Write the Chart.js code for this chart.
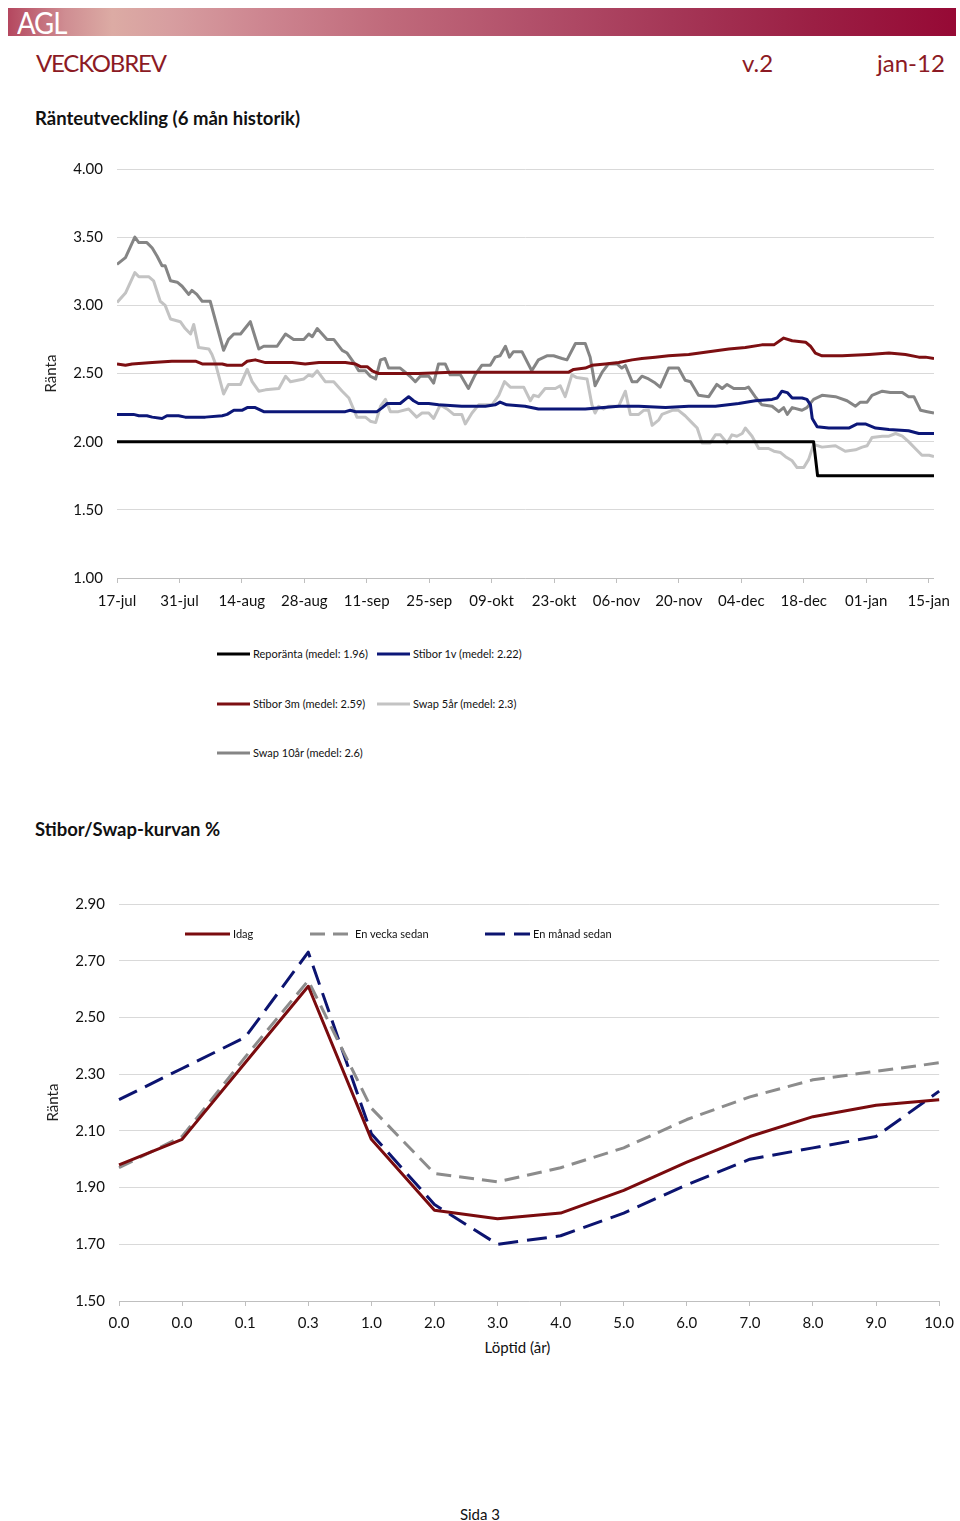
<!DOCTYPE html>
<html>
<head>
<meta charset="utf-8">
<script src="https://cdn.jsdelivr.net/npm/chart.js@4.4.1/dist/chart.umd.min.js"></script>
<style>
  html,body{margin:0;padding:0;}
  body{width:960px;height:1521px;position:relative;background:#fff;font-family:Lato,"Open Sans",sans-serif;overflow:hidden;}
  .abs{position:absolute;white-space:nowrap;}
  #banner{left:8px;top:8px;width:948px;height:28px;overflow:hidden;
    background:linear-gradient(to right,#b4475f 0%,#cf8d92 6%,#dcaba4 11%,#d79ea0 17%,#cd8590 27%,#c06a7b 40%,#b2506a 55%,#a53757 70%,#9b1f44 85%,#960935 100%);}
  #agl{left:9px;top:0px;color:#fff;font-size:30px;letter-spacing:-1.2px;line-height:28px;transform:scaleX(0.92);transform-origin:left center;}
  .hdr{color:#8c1a24;font-size:24px;top:48px;line-height:30px;}
  .sec{font-weight:bold;font-size:18.5px;color:#111;}
  .leg{font-size:11px;color:#111;line-height:14px;display:flex;align-items:center;}
  .leg svg{margin-right:3px;}
  #c1wrap{left:38px;top:146px;width:921px;height:474px;}
  #c2wrap{left:40px;top:881px;width:922px;height:450px;}
</style>
</head>
<body>
<div id="banner" class="abs"><div id="agl" class="abs">AGL</div></div>
<div class="abs hdr" style="left:36px;letter-spacing:-1.2px;">VECKOBREV</div>
<div class="abs hdr" style="left:742px;">v.2</div>
<div class="abs hdr" style="left:877px;">jan-12</div>
<div class="abs sec" style="left:35px;top:107px;">Ränteutveckling (6 mån historik)</div>
<div class="abs sec" style="left:35px;top:818px;">Stibor/Swap-kurvan %</div>

<div id="c1wrap" class="abs"><canvas id="c1" width="921" height="474"></canvas></div>
<div id="c2wrap" class="abs"><canvas id="c2" width="922" height="450"></canvas></div>
<div id="leg1"></div>
<div id="leg2"></div>
<div class="abs" style="left:0;width:1035px;top:1338px;text-align:center;font-size:15px;color:#111;">Löptid (år)</div>
<div class="abs" style="left:0;width:960px;top:1505px;text-align:center;font-size:15px;color:#111;">Sida 3</div>

<script>
// ---------- Chart 1: Ränteutveckling ----------
const tickDays   = [0,14,28,42,56,70,84,98,112,126,140,154,168,182]; // days after 17-jul
const tickLabels = ['17-jul','31-jul','14-aug','28-aug','11-sep','25-sep','09-okt','23-okt','06-nov','20-nov','04-dec','18-dec','01-jan','15-jan'];
const seriesNames = ['Reporänta (medel: 1.96)','Stibor 1v (medel: 2.22)','Stibor 3m (medel: 2.59)','Swap 5år (medel: 2.3)','Swap 10år (medel: 2.6)'];
const seriesColors = ['#000000','#0c1778','#7d0f12','#c3c3c3','#858585'];

const repoDays = [0,156.2,157.1,183.2];
const repoVals = [2.00,2.00,1.75,1.75];

const stibor1vDays = [0,3.7,4.9,6.7,7.9,10.1,11.2,13.8,15.3,18.3,
  19.8,23.6,24.7,26.2,28.0,29.2,31.0,32.9,34.8,36.3,
  51.2,52.3,53.5,58.3,59.5,60.6,63.5,65.4,66.5,67.6,
  69.9,72.1,77.3,82.6,84.8,85.9,87.4,91.5,94.5,100.5,
  105.0,112.5,117.0,123.0,128.2,134.2,139.4,143.1,146.9,148.0,
  149.1,150.3,151.4,153.6,154.7,155.5,155.9,157.0,159.6,164.1,
  166.0,167.8,170.1,173.1,177.5,179.8,183.2];
const stibor1vVals = [2.20,2.20,2.19,2.19,2.18,2.17,2.19,2.19,2.18,2.18,
  2.18,2.19,2.20,2.23,2.23,2.25,2.25,2.22,2.22,2.22,
  2.22,2.23,2.22,2.22,2.25,2.28,2.28,2.33,2.30,2.28,
  2.28,2.27,2.26,2.26,2.27,2.29,2.27,2.26,2.24,2.24,
  2.24,2.26,2.26,2.25,2.26,2.26,2.28,2.30,2.31,2.32,
  2.37,2.36,2.32,2.32,2.31,2.27,2.17,2.11,2.10,2.10,
  2.13,2.13,2.10,2.09,2.08,2.06,2.06];

const stibor3mDays = [0,1.9,3.4,7.9,12.3,17.6,19.1,23.6,24.7,28.0,
  29.2,31.0,33.3,39.3,42.2,45.3,51.2,53.5,54.6,56.1,
  57.2,58.7,61.7,67.6,75.1,82.6,90.0,93.0,101.3,102.4,
  105.0,106.5,109.5,112.5,115.5,117.7,120.7,123.7,128.2,132.7,
  137.2,140.9,144.6,147.3,149.5,151.4,154.4,155.5,156.6,158.1,
  162.6,168.6,173.1,176.8,179.8,181.3,183.2];
const stibor3mVals = [2.57,2.56,2.57,2.58,2.59,2.59,2.57,2.57,2.56,2.56,
  2.59,2.60,2.58,2.58,2.57,2.58,2.58,2.57,2.55,2.55,
  2.52,2.50,2.50,2.50,2.51,2.51,2.51,2.51,2.51,2.53,
  2.54,2.56,2.57,2.58,2.60,2.61,2.62,2.63,2.64,2.66,
  2.68,2.69,2.71,2.71,2.76,2.74,2.73,2.70,2.65,2.63,
  2.63,2.64,2.65,2.64,2.62,2.62,2.61];

const swap5Days = [0,1.9,4.0,4.9,7.1,8.2,9.7,10.8,12.0,14.2,
  15.3,16.5,17.2,18.3,20.6,21.3,22.1,23.9,25.0,27.7,
  29.2,30.3,31.8,33.3,36.3,37.8,38.9,41.9,43.0,43.8,
  44.9,46.7,48.6,50.5,52.0,53.8,55.7,56.8,58.0,59.1,
  60.2,61.3,63.1,65.4,67.2,68.4,69.9,71.0,72.5,74.0,
  75.5,77.3,78.1,79.6,81.1,84.1,85.6,86.9,88.2,91.2,
  92.7,93.4,94.5,96.0,98.3,99.4,100.5,102.0,103.1,105.4,
  106.5,107.2,108.0,109.1,110.2,112.5,114.0,115.1,117.0,118.1,
  119.2,120.0,121.5,122.2,124.5,125.9,127.4,128.9,130.1,131.2,
  133.0,134.2,135.3,136.8,137.9,139.0,140.2,140.9,142.4,143.9,
  146.1,147.3,148.8,149.9,151.4,152.5,154.0,155.1,156.2,158.1,
  161.1,163.3,165.6,167.1,168.2,169.3,171.6,173.1,174.6,176.1,
  177.5,179.0,180.5,182.1,183.2];
const swap5Vals = [3.02,3.09,3.24,3.21,3.21,3.18,3.03,3.00,2.90,2.88,
  2.83,2.79,2.86,2.69,2.68,2.64,2.57,2.35,2.42,2.42,
  2.53,2.44,2.37,2.38,2.39,2.48,2.44,2.46,2.49,2.48,
  2.52,2.44,2.44,2.37,2.32,2.18,2.18,2.15,2.14,2.26,
  2.31,2.22,2.22,2.24,2.18,2.21,2.21,2.17,2.27,2.24,
  2.20,2.20,2.13,2.21,2.27,2.27,2.34,2.44,2.40,2.40,
  2.30,2.34,2.33,2.39,2.39,2.41,2.33,2.49,2.47,2.46,
  2.27,2.21,2.26,2.24,2.26,2.26,2.37,2.20,2.20,2.23,
  2.23,2.12,2.16,2.20,2.23,2.23,2.19,2.14,2.10,1.99,
  1.99,2.05,2.05,1.99,2.05,2.04,2.06,2.10,2.04,1.95,
  1.95,1.93,1.92,1.89,1.86,1.81,1.81,1.87,1.98,1.96,
  1.97,1.93,1.94,1.96,1.97,2.03,2.04,2.04,2.06,2.04,
  2.00,1.95,1.90,1.90,1.89];

const swap10Days = [0,1.9,4.0,4.9,6.7,7.9,9.0,10.1,10.8,12.0,
  13.5,14.6,16.1,16.8,17.9,19.1,20.9,23.9,25.0,26.2,
  27.7,29.9,31.8,32.9,35.9,37.8,39.6,41.9,43.0,43.8,
  44.9,47.1,48.6,50.5,51.6,53.1,54.2,55.7,56.8,58.0,
  59.1,60.1,60.9,63.5,64.6,65.7,66.9,68.0,69.9,71.0,
  72.1,73.6,74.7,77.0,78.8,80.3,81.8,83.7,84.8,85.9,
  87.1,88.0,88.9,90.8,93.0,94.5,96.4,97.9,99.8,100.9,
  102.8,105.0,106.1,107.2,108.8,110.2,112.1,113.2,114.0,115.5,
  116.6,117.7,119.2,120.7,121.8,123.7,125.9,127.4,128.6,130.4,
  132.7,134.5,135.7,136.8,138.3,140.9,141.6,143.1,144.6,146.9,
  148.4,149.5,150.3,151.4,153.6,154.7,156.2,158.1,161.1,163.7,
  165.6,166.7,168.2,169.3,171.6,173.4,176.1,177.5,178.7,180.2,
  181.7,183.2];
const swap10Vals = [3.30,3.35,3.50,3.46,3.46,3.42,3.36,3.29,3.29,3.18,
  3.17,3.14,3.08,3.11,3.08,3.03,3.03,2.67,2.75,2.79,
  2.79,2.88,2.68,2.70,2.70,2.79,2.75,2.75,2.79,2.77,
  2.83,2.75,2.75,2.67,2.65,2.58,2.52,2.52,2.48,2.46,
  2.60,2.61,2.54,2.54,2.51,2.48,2.44,2.48,2.48,2.43,
  2.57,2.57,2.49,2.49,2.39,2.49,2.56,2.56,2.62,2.63,
  2.70,2.62,2.66,2.66,2.52,2.60,2.63,2.63,2.61,2.60,
  2.72,2.72,2.62,2.41,2.51,2.57,2.57,2.54,2.56,2.44,
  2.44,2.48,2.46,2.43,2.40,2.54,2.54,2.45,2.44,2.34,
  2.33,2.42,2.39,2.42,2.39,2.39,2.40,2.33,2.27,2.26,
  2.22,2.25,2.20,2.25,2.23,2.25,2.31,2.34,2.33,2.30,
  2.26,2.29,2.29,2.34,2.37,2.36,2.36,2.33,2.33,2.23,
  2.22,2.21];

// ---------- Chart 2: Stibor/Swap-kurvan ----------
const maturities = ['0.0','0.0','0.1','0.3','1.0','2.0','3.0','4.0','5.0','6.0','7.0','8.0','9.0','10.0'];
const curveNames = ['Idag','En vecka sedan','En månad sedan'];
const curveColors = ['#7a0b0e','#8c8c8c','#0c1470'];
const idagVals    = [1.98,2.07,2.34,2.61,2.07,1.82,1.79,1.81,1.89,1.99,2.08,2.15,2.19,2.21];
const veckaVals   = [1.97,2.08,2.36,2.63,2.18,1.95,1.92,1.97,2.04,2.14,2.22,2.28,2.31,2.34];
const manadVals   = [2.21,2.32,2.43,2.73,2.09,1.84,1.70,1.73,1.81,1.91,2.00,2.04,2.08,2.24];

const FONT = 'Lato';
function pts(d, v){ const n=Math.min(d.length,v.length); const r=[]; for(let i=0;i<n;i++) r.push({x:d[i],y:v[i]}); return r; }
function ds(label, data, color, dash){
  return {label, data, borderColor:color, backgroundColor:color, borderWidth:3, pointRadius:0, tension:0, borderDash:dash||[], fill:false, borderCapStyle:'butt', borderJoinStyle:'round'};
}

new Chart(document.getElementById('c1'), {
  type:'line',
  data:{datasets:[
    ds(seriesNames[0], pts(repoDays,repoVals), seriesColors[0]),
    ds(seriesNames[1], pts(stibor1vDays,stibor1vVals), seriesColors[1]),
    ds(seriesNames[2], pts(stibor3mDays,stibor3mVals), seriesColors[2]),
    ds(seriesNames[3], pts(swap5Days,swap5Vals), seriesColors[3]),
    ds(seriesNames[4], pts(swap10Days,swap10Vals), seriesColors[4])
  ]},
  options:{
    responsive:false, animation:false, maintainAspectRatio:false,
    layout:{padding:{top:18,right:25,left:0,bottom:0}},
    plugins:{legend:{display:false}, tooltip:{enabled:false}},
    scales:{
      x:{type:'linear', min:0, max:183.2,
        afterBuildTicks:s=>{ s.ticks = tickDays.map(v=>({value:v})); },
        ticks:{autoSkip:false, maxRotation:0, padding:9, color:'#111', font:{family:FONT,size:15},
          callback:(v)=>tickLabels[tickDays.indexOf(v)]},
        grid:{drawOnChartArea:false, drawTicks:true, tickLength:5, color:'#bfbfbf'},
        border:{color:'#bfbfbf'},
        afterFit:s=>{ s.height = 42; }
      },
      y:{min:1, max:4,
        ticks:{stepSize:0.5, padding:14, color:'#111', font:{family:FONT,size:15}, callback:v=>Number(v).toFixed(2)},
        grid:{color:'#d9d9d9', drawTicks:false},
        border:{display:false},
        title:{display:true, text:'Ränta', color:'#222', font:{family:FONT,size:15}},
        afterFit:s=>{ s.width = 79; }
      }
    }
  }
});

new Chart(document.getElementById('c2'), {
  type:'line',
  data:{labels:maturities, datasets:[
    ds(curveNames[0], idagVals, curveColors[0]),
    ds(curveNames[1], veckaVals, curveColors[1], [15,8]),
    ds(curveNames[2], manadVals, curveColors[2], [20,9])
  ]},
  options:{
    responsive:false, animation:false, maintainAspectRatio:false,
    layout:{padding:{top:18,right:20,left:0,bottom:0}},
    plugins:{legend:{display:false}, tooltip:{enabled:false}},
    scales:{
      x:{type:'category', offset:false,
        ticks:{autoSkip:false, maxRotation:0, padding:8, color:'#111', font:{family:FONT,size:15}},
        grid:{drawOnChartArea:false, drawTicks:true, tickLength:5, color:'#bfbfbf', offset:false},
        border:{color:'#bfbfbf'},
        afterFit:s=>{ s.height = 30; }
      },
      y:{min:1.5, max:2.9,
        ticks:{stepSize:0.2, padding:14, color:'#111', font:{family:FONT,size:15}, callback:v=>Number(v).toFixed(2)},
        grid:{color:'#d9d9d9', drawTicks:false},
        border:{display:false},
        title:{display:true, text:'Ränta', color:'#222', font:{family:FONT,size:15}},
        afterFit:s=>{ s.width = 79; }
      }
    }
  }
});

// ---------- HTML legends (real text) ----------
function sample(color, w, dash){
  return '<svg width="'+w+'" height="6"><line x1="0" y1="3" x2="'+w+'" y2="3" stroke="'+color+'" stroke-width="3"'+(dash?' stroke-dasharray="'+dash+'"':'')+'/></svg>';
}
const leg1 = document.getElementById('leg1');
const leg1X = [217,377], leg1Y = [654,704,753];
seriesNames.forEach((n,k)=>{
  const d = document.createElement('div');
  d.className='abs leg';
  d.style.left = leg1X[k%2]+'px';
  d.style.top = (leg1Y[Math.floor(k/2)]-7)+'px';
  d.innerHTML = sample(seriesColors[k],33) + '<span>'+n+'</span>';
  leg1.appendChild(d);
});
const leg2 = document.getElementById('leg2');
const leg2X = [185,310,485], leg2W=[45,42,45], leg2Dash=[null,'15 8','20 9'];
curveNames.forEach((n,k)=>{
  const d = document.createElement('div');
  d.className='abs leg';
  d.style.left = leg2X[k]+'px';
  d.style.top = (934-7)+'px';
  d.innerHTML = sample(curveColors[k],leg2W[k],leg2Dash[k]) + '<span>'+n+'</span>';
  leg2.appendChild(d);
});
</script>
</body>
</html>
